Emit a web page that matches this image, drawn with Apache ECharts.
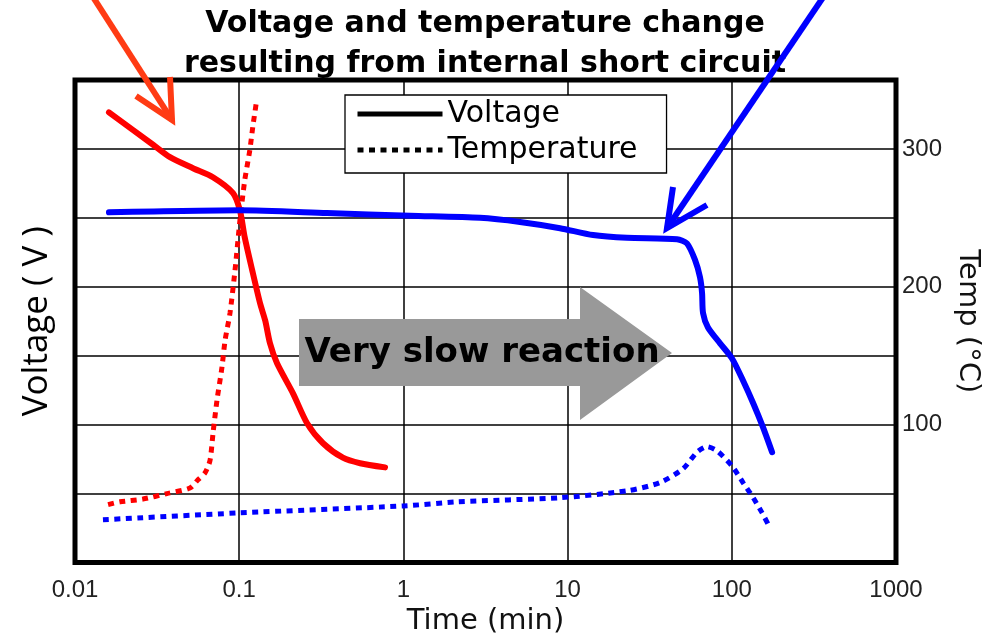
<!DOCTYPE html>
<html>
<head>
<meta charset="utf-8">
<title>Voltage and temperature change resulting from internal short circuit</title>
<script src="https://cdn.jsdelivr.net/npm/echarts@6/dist/echarts.min.js"></script>
<style>
  html, body { margin: 0; padding: 0; background: #fff; }
  #chart { width: 990px; height: 634px; }
</style>
</head>
<body>
<div id="chart"></div>
<script>
// Tick labels
const timeTickLabels = ['0.01', '0.1', '1', '10', '100', '1000'];
const tempTickLabels = [100, 200, 300];

// Fast reaction (red): voltage (V) vs time (min)
const redVoltTime  = [0.0161, 0.0299, 0.0379, 0.0523, 0.0692, 0.0917, 0.101, 0.108, 0.120, 0.134, 0.144, 0.154, 0.170, 0.213, 0.259, 0.324, 0.428, 0.545, 0.773];
const redVoltValue = [6.53, 6.06, 5.88, 5.72, 5.59, 5.36, 5.11, 4.72, 4.24, 3.76, 3.51, 3.18, 2.89, 2.45, 2.02, 1.73, 1.52, 1.44, 1.38];

// Fast reaction (red): temperature (°C) vs time (min)
const redTempTime  = [0.0159, 0.0188, 0.0259, 0.0363, 0.0501, 0.0561, 0.0619, 0.0664, 0.0693, 0.0733, 0.0786, 0.0820, 0.0879, 0.0943, 0.101, 0.108, 0.116, 0.121, 0.128];
const redTempValue = [42, 44, 46, 50, 54, 60, 65, 74, 94, 118, 142, 161, 181, 212, 248, 277, 299, 316, 336];

// Slow reaction (blue): voltage (V) vs time (min)
const blueVoltTime  = [0.0161, 0.101, 0.343, 1.10, 2.93, 5.13, 8.99, 14.3, 23.0, 46.4, 53.3, 59.7, 64.0, 65.9, 66.8, 71.6, 84.8, 100.3, 117, 135, 155, 176];
const blueVoltValue = [5.08, 5.11, 5.07, 5.03, 5.00, 4.94, 4.85, 4.75, 4.71, 4.69, 4.63, 4.39, 4.14, 3.91, 3.62, 3.41, 3.18, 2.96, 2.64, 2.31, 1.96, 1.60];

// Slow reaction (blue): temperature (°C) vs time (min)
const blueTempTime  = [0.0148, 0.101, 1.0, 2.12, 9.0, 23.0, 36.5, 50.5, 61.4, 70.6, 81.3, 100.3, 117, 135, 153, 166];
const blueTempValue = [31, 36, 41, 44, 47, 52, 58, 68, 80, 84, 81, 70, 58, 47, 36, 28];

const zip = (xs, ys) => xs.map((x, i) => [x, ys[i]]);

const RED = '#ff0000';
const BLUE = '#0000ff';
const DOTS = [6, 5.5];
const numFont = 'Liberation Sans';

const chart = echarts.init(document.getElementById('chart'), null, { renderer: 'canvas' });

chart.setOption({
  animation: false,
  backgroundColor: '#ffffff',
  title: {
    text: 'Voltage and temperature change\nresulting from internal short circuit',
    left: 485,
    top: 4,
    padding: 0,
    textAlign: 'center',
    textStyle: {
      fontFamily: 'DejaVu Sans',
      fontWeight: 'bold',
      fontSize: 30,
      lineHeight: 40,
      color: '#000'
    }
  },
  legend: {
    data: ['Voltage', 'Temperature'],
    orient: 'vertical',
    left: 345,
    top: 95,
    padding: [4, 29, 8, 10],
    itemGap: 6,
    itemWidth: 85,
    itemHeight: 14,
    selectedMode: false,
    backgroundColor: '#ffffff',
    borderColor: '#000',
    borderWidth: 1.3,
    borderRadius: 0,
    itemStyle: { opacity: 0 },
    lineStyle: { width: 5 },
    textStyle: { fontFamily: 'DejaVu Sans', fontSize: 30, color: '#000' }
  },
  grid: {
    left: 75,
    right: 94,
    top: 80,
    bottom: 71.5,
    show: true,
    borderColor: '#000',
    borderWidth: 5,
    backgroundColor: 'transparent',
    containLabel: false,
    outerBoundsMode: 'none'
  },
  xAxis: {
    type: 'log',
    logBase: 10,
    min: 0.01,
    max: 1000,
    name: 'Time (min)',
    nameLocation: 'middle',
    nameGap: 42,
    nameTextStyle: { fontFamily: 'DejaVu Sans', fontSize: 29, color: '#111' },
    axisLine: { show: false },
    axisTick: { show: false },
    axisLabel: {
      margin: 16,
      fontFamily: numFont,
      fontSize: 24,
      color: '#222',
      formatter: (v, i) => timeTickLabels[i] !== undefined ? timeTickLabels[i] : ''
    },
    splitLine: { show: true, lineStyle: { color: '#000', width: 1.5 } },
    minorSplitLine: { show: false }
  },
  yAxis: [
    {
      type: 'value',
      position: 'left',
      min: 0,
      max: 7,
      interval: 1,
      name: 'Voltage ( V )',
      nameLocation: 'middle',
      nameGap: 20,
      nameRotate: 90,
      nameTextStyle: { fontFamily: 'Open Sans', fontSize: 35, color: '#000' },
      axisLine: { show: false },
      axisTick: { show: false },
      axisLabel: { show: false },
      splitLine: { show: true, lineStyle: { color: '#000', width: 1.5 } }
    },
    {
      type: 'value',
      position: 'right',
      min: 0,
      max: 350,
      interval: 50,
      name: 'Temp (°C)',
      nameLocation: 'middle',
      nameGap: 50,
      nameRotate: -90,
      nameTextStyle: { fontFamily: 'DejaVu Sans', fontSize: 29, color: '#111' },
      axisLine: { show: false },
      axisTick: { show: false },
      axisLabel: {
        margin: 6,
        fontFamily: numFont,
        fontSize: 24,
        color: '#222',
        padding: [9, 0, 0, 0],
        formatter: v => tempTickLabels.includes(v) ? String(v) : ''
      },
      splitLine: { show: false }
    }
  ],
  series: [
    // legend keys (black line styles)
    { name: 'Voltage', type: 'line', data: [], symbol: 'none', color: '#000',
      lineStyle: { color: '#000', width: 5, type: 'solid' } },
    { name: 'Temperature', type: 'line', data: [], symbol: 'none', color: '#000',
      lineStyle: { color: '#000', width: 5, type: DOTS, cap: 'butt' } },

    { name: 'Fast voltage', type: 'line', yAxisIndex: 0, data: zip(redVoltTime, redVoltValue),
      symbol: 'none', smooth: 0.25, color: RED,
      lineStyle: { color: RED, width: 6, cap: 'round', join: 'round' } },
    { name: 'Fast temperature', type: 'line', yAxisIndex: 1, data: zip(redTempTime, redTempValue),
      symbol: 'none', smooth: 0.25, color: RED,
      lineStyle: { color: RED, width: 5, type: DOTS, cap: 'butt' } },
    { name: 'Slow voltage', type: 'line', yAxisIndex: 0, data: zip(blueVoltTime, blueVoltValue),
      symbol: 'none', smooth: 0.25, color: BLUE,
      lineStyle: { color: BLUE, width: 6, cap: 'round', join: 'round' } },
    { name: 'Slow temperature', type: 'line', yAxisIndex: 1, data: zip(blueTempTime, blueTempValue),
      symbol: 'none', smooth: 0.25, color: BLUE,
      lineStyle: { color: BLUE, width: 5, type: DOTS, cap: 'butt' } }
  ],
  graphic: [
    // grey block arrow with caption
    {
      type: 'polygon', z: 50,
      shape: { points: [[299, 319], [580, 319], [580, 287], [672, 353], [580, 420], [580, 386], [299, 386]] },
      style: { fill: '#999999' }
    },
    {
      type: 'text', z: 51, x: 482, y: 353,
      style: {
        text: 'Very slow reaction',
        font: 'bold 34px "DejaVu Sans"',
        fill: '#000',
        textAlign: 'center',
        textVerticalAlign: 'middle'
      }
    },
    // red pointer
    {
      type: 'polyline', z: 60,
      shape: { points: [[93, -3], [172, 120]] },
      style: { stroke: '#ff3b14', lineWidth: 6, fill: null }
    },
    {
      type: 'polyline', z: 60,
      shape: { points: [[136, 96], [172, 120], [170, 77]] },
      style: { stroke: '#ff3b14', lineWidth: 6, fill: null, lineJoin: 'miter' }
    },
    // blue pointer
    {
      type: 'polyline', z: 60,
      shape: { points: [[824, -4], [667, 228]] },
      style: { stroke: '#0000ff', lineWidth: 6, fill: null }
    },
    {
      type: 'polyline', z: 60,
      shape: { points: [[673, 187], [667, 228], [707, 205]] },
      style: { stroke: '#0000ff', lineWidth: 6, fill: null, lineJoin: 'miter' }
    }
  ]
});
</script>
</body>
</html>
